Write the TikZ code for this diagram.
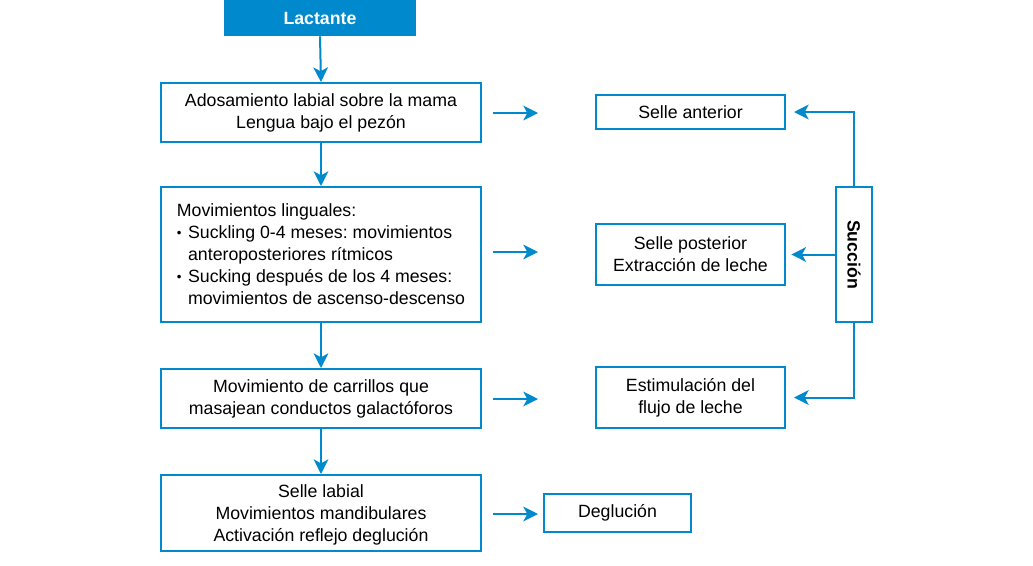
\documentclass[tikz,border=0pt]{standalone}
\usepackage{fontspec}
\setmainfont{Liberation Sans}
\usetikzlibrary{arrows.meta}
\definecolor{cblue}{RGB}{0,137,204}
\frenchspacing
\newcommand\mybul{\makebox[8.4pt][l]{\raisebox{0.1em}{\scalebox{0.75}{\textbullet}}}}
\newcommand\mybulsp{\hspace*{8.4pt}}
\begin{document}
\begin{tikzpicture}[x=0.75pt,y=-0.75pt,
  every node/.style={font=\fontsize{13.3pt}{16.5pt}\selectfont},
  box/.style={draw=cblue,line width=1.5pt,fill=white,align=center,inner sep=2pt,text=black},
  arr/.style={draw=cblue,line width=1.5pt,-{Stealth[length=11pt,width=11pt,inset=3pt]}},
  ln/.style={draw=cblue,line width=1.5pt}]
\useasboundingbox (0,0) rectangle (1033,565);
\fill[white] (0,0) rectangle (1033,565);

\node[fill=cblue,text=white,minimum width=144pt,minimum height=27pt,inner sep=0pt,font=\fontsize{13.3pt}{16.5pt}\selectfont\bfseries] (lac) at (320,18) {Lactante};

\node[box,minimum width=240pt,minimum height=44.25pt] (b1) at (321,112.5) {Adosamiento labial sobre la mama\\Lengua bajo el pezón};
\node[box,minimum width=240pt,minimum height=101.25pt,align=left] (b2) at (321,254.5) {Movimientos linguales:\\
\mybul Suckling 0-4 meses: movimientos\\
\mybulsp anteroposteriores rítmicos\\
\mybul Sucking después de los 4 meses:\\
\mybulsp movimientos de ascenso-descenso};
\node[box,minimum width=240pt,minimum height=44.25pt] (b3) at (321,398.5) {Movimiento de carrillos que\\masajean conductos galactóforos};
\node[box,minimum width=240pt,minimum height=57pt,text depth=0pt] (b4) at (321,513) {Selle labial\\Movimientos mandibulares\\Activación reflejo deglución};

\node[box,minimum width=141.75pt,minimum height=25.5pt] (sa) at (690.5,112) {Selle anterior};
\node[box,minimum width=141.75pt,minimum height=45.75pt] (sp) at (690.5,254.5) {Selle posterior\\Extracción de leche};
\node[box,minimum width=141.75pt,minimum height=45.75pt] (ef) at (690.5,397.5) {Estimulación del\\flujo de leche};
\node[box,minimum width=110.25pt,minimum height=28.5pt] (de) at (617.5,513) {Deglución};

\node[box,minimum width=101.25pt,minimum height=27pt,rotate=-90,font=\fontsize{13.3pt}{16.5pt}\selectfont\bfseries] (suc) at (854,254.5) {Succión};

\draw[arr] (lac.south) -- (b1.north);
\draw[arr] (b1.south) -- (b2.north);
\draw[arr] (b2.south) -- (b3.north);
\draw[arr] (b3.south) -- (b4.north);

\coordinate (h1s) at (493,113); \coordinate (h1e) at (538,113);
\coordinate (h2s) at (493,252); \coordinate (h2e) at (538,252);
\coordinate (h3s) at (493,399); \coordinate (h3e) at (538,399);
\coordinate (h4s) at (493,514); \coordinate (h4e) at (538,514);
\draw[arr] (h1s) -- (h1e);
\draw[arr] (h2s) -- (h2e);
\draw[arr] (h3s) -- (h3e);
\draw[arr] (h4s) -- (h4e);

\draw[arr,shorten >=6pt] (suc.west) |- (sa.east);
\draw[arr,shorten >=4pt] (suc.south) -- (sp.east |- suc.south);
\draw[arr,shorten >=6pt] (suc.east) |- (ef.east);
\end{tikzpicture}
\end{document}
